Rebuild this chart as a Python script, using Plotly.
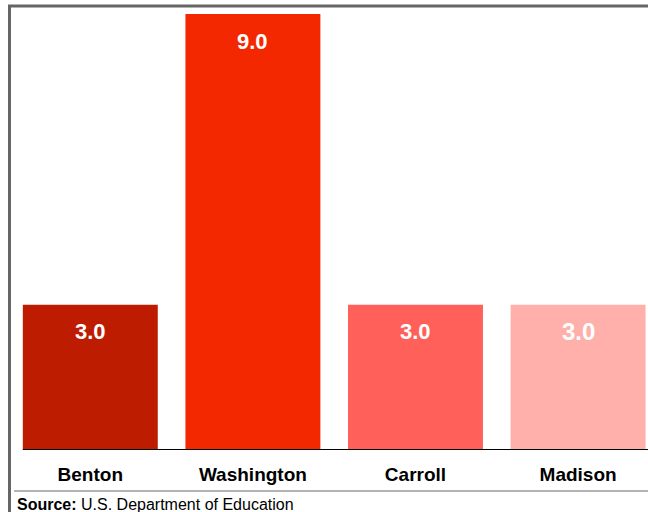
import plotly.graph_objects as go

counties = ['Benton', 'Washington', 'Carroll', 'Madison']
values = [3.0, 9.0, 3.0, 3.0]
bar_colors = ['#BE1C00', '#F42800', '#FF605A', '#FFB0AA']
label_sizes = [22, 22, 22, 24]
source_label = '<b>Source:</b> U.S. Department of Education'

W, H = 648, 512
L, R, T, B = 9, 0, 14, 62
pw, ph = W - L - R, H - T - B

def px_x(p):
    return (p - L) / pw

def px_y(p):
    return (H - B - p) / ph

fig = go.Figure()
fig.add_trace(go.Bar(
    x=counties, y=values,
    marker=dict(color=bar_colors, line=dict(width=0)),
    width=0.83,
    hoverinfo='skip',
))

# value labels near the top of each bar
for c, v, s in zip(counties, values, label_sizes):
    fig.add_annotation(
        x=c, y=v, text=f'<b>{v:.1f}</b>', showarrow=False,
        yanchor='middle', yshift=-27,
        font=dict(family='Liberation Sans, Arial', size=s, color='white'),
    )

# black baseline starting at the first bar's left edge
fig.add_shape(type='line', xref='x', yref='y', x0=-0.415, x1=3.6, y0=0, y1=0,
              line=dict(color='black', width=2))

# gray frame on top and left
fig.add_shape(type='line', xref='paper', yref='paper',
              x0=px_x(8), x1=px_x(660), y0=px_y(6), y1=px_y(6),
              line=dict(color='#666666', width=3))
fig.add_shape(type='line', xref='paper', yref='paper',
              x0=px_x(9.5), x1=px_x(9.5), y0=px_y(5), y1=px_y(520),
              line=dict(color='#666666', width=3))

# thin gray separator above the source line
fig.add_shape(type='line', xref='paper', yref='paper',
              x0=px_x(14), x1=px_x(660), y0=px_y(491), y1=px_y(491),
              line=dict(color='#999999', width=1.5))

fig.add_annotation(
    xref='paper', yref='paper', x=px_x(15), y=px_y(504),
    xanchor='left', yanchor='middle', showarrow=False,
    text=source_label,
    font=dict(family='Liberation Sans, Arial', size=16, color='black'),
)

fig.update_layout(
    width=W, height=H,
    margin=dict(l=L, r=R, t=T, b=B, pad=0),
    plot_bgcolor='white', paper_bgcolor='white',
    showlegend=False,
    font=dict(family='Liberation Sans, Arial', color='black'),
    xaxis=dict(
        range=[-0.5, 3.43], showgrid=False, zeroline=False, showline=False,
        ticks='', tickfont=dict(size=19, color='black', weight='bold'),
        ticklabelstandoff=11, fixedrange=True,
    ),
    yaxis=dict(
        range=[0, 9], showgrid=False, zeroline=False, showline=False,
        showticklabels=False, ticks='', fixedrange=True,
    ),
)

fig.write_html('out.html', config={'displayModeBar': False},
               post_script="document.body.style.margin='0';document.body.style.overflow='hidden';")
